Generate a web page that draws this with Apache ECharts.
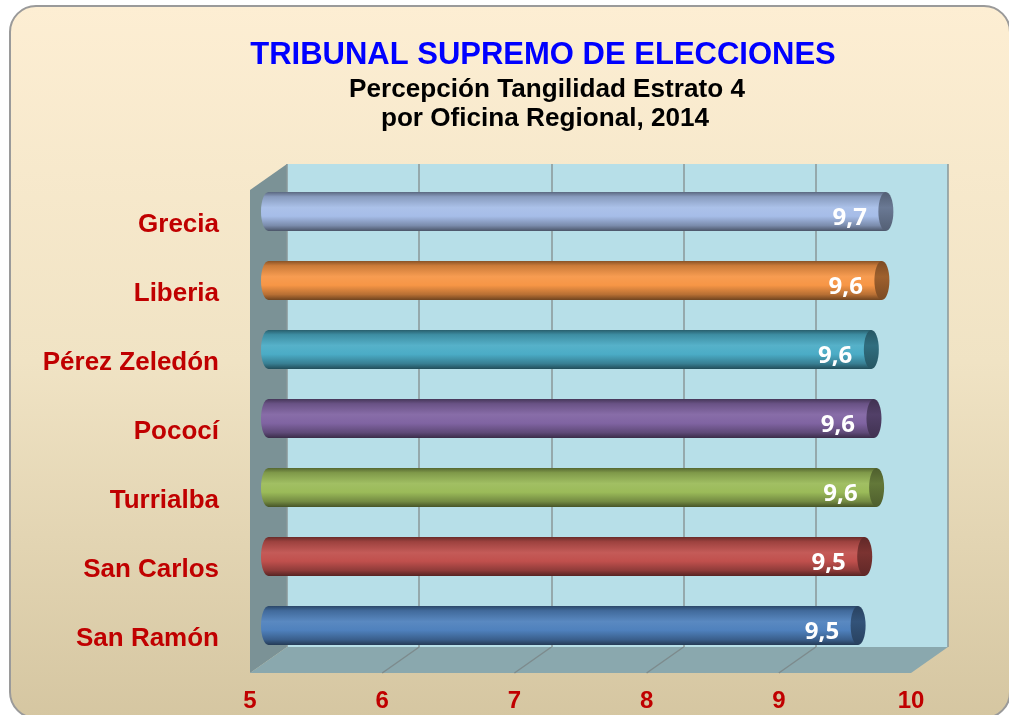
<!DOCTYPE html>
<html>
<head>
<meta charset="utf-8">
<script src="https://cdn.jsdelivr.net/npm/echarts@6/dist/echarts.min.js"></script>
<style>
    html, body { margin: 0; padding: 0; background: #fff; }
    #chart { width: 1009px; height: 715px; }
</style>
</head>
<body>
<div id="chart"></div>
<script>
var categories = ['Grecia', 'Liberia', 'Pérez Zeledón', 'Pococí', 'Turrialba', 'San Carlos', 'San Ramón'];
var values = [9.67, 9.64, 9.56, 9.58, 9.60, 9.51, 9.46];
var xTicks = [5, 6, 7, 8, 9, 10];

var barColors = ['#a6bde8', '#f79646', '#4bacc6', '#8064a2', '#9bbb59', '#c0504d', '#4f81bd'];

// back wall of the 3d box, front plane is shifted by depth
var BACK = { left: 287, top: 164, width: 661, height: 483 };
var DX = -37, DY = 26;

function shade(hex, f) {
    var n = parseInt(hex.slice(1), 16);
    var c = [(n >> 16) & 255, (n >> 8) & 255, n & 255].map(function (v) {
        var r = f <= 1 ? v * f : v + (255 - v) * (f - 1);
        return Math.max(0, Math.min(255, Math.round(r)));
    });
    return 'rgb(' + c.join(',') + ')';
}

function bodyGradient(hex) {
    return new echarts.graphic.LinearGradient(0, 0, 0, 1, [
        { offset: 0, color: shade(hex, 0.55) },
        { offset: 0.12, color: shade(hex, 0.82) },
        { offset: 0.4, color: shade(hex, 1.06) },
        { offset: 0.62, color: hex },
        { offset: 0.86, color: shade(hex, 0.74) },
        { offset: 1, color: shade(hex, 0.45) }
    ]);
}

var chart = echarts.init(document.getElementById('chart'));

function gridAt(k) {
    return {
        left: BACK.left + DX * k,
        top: BACK.top + DY * k,
        width: BACK.width,
        height: BACK.height
    };
}

var g0 = gridAt(0), g1 = gridAt(0.5), g2 = gridAt(1);
g0.show = true;
g0.backgroundColor = '#b7dfe8';
g0.borderWidth = 0;

var graphics = [{
    type: 'rect',
    shape: { x: 10, y: 6, width: 1000, height: 712, r: 26 },
    style: {
        fill: new echarts.graphic.LinearGradient(0, 0, 0, 1, [
            { offset: 0, color: '#fdeed3' },
            { offset: 0.5, color: '#f0e3c4' },
            { offset: 1, color: '#d5c6a1' }
        ]),
        stroke: '#9a9a9a',
        lineWidth: 2
    },
    z: -10
}, {
    // left side wall
    type: 'polygon',
    shape: {
        points: [
            [BACK.left, BACK.top],
            [BACK.left, BACK.top + BACK.height],
            [BACK.left + DX, BACK.top + BACK.height + DY],
            [BACK.left + DX, BACK.top + DY]
        ]
    },
    style: { fill: '#7b9296' },
    z: -5
}, {
    // floor
    type: 'polygon',
    shape: {
        points: [
            [BACK.left + DX, BACK.top + BACK.height + DY],
            [BACK.left, BACK.top + BACK.height],
            [BACK.left + BACK.width, BACK.top + BACK.height],
            [BACK.left + BACK.width + DX, BACK.top + BACK.height + DY]
        ]
    },
    style: { fill: '#8aa8ae' },
    z: -5
}];

xTicks.slice(1, -1).forEach(function (t) {
    var x = BACK.left + (t - 5) / 5 * BACK.width;
    var y = BACK.top + BACK.height;
    graphics.push({
        type: 'line',
        shape: { x1: x, y1: y, x2: x + DX, y2: y + DY },
        style: { stroke: '#7d8b8d', lineWidth: 1.5 },
        z: -4
    });
});

graphics.push({
    type: 'text',
    x: 543, y: 55,
    style: {
        text: 'TRIBUNAL SUPREMO DE ELECCIONES',
        align: 'center', verticalAlign: 'middle',
        fill: '#0000ff',
        font: 'bold 31px "Liberation Sans"'
    }
}, {
    type: 'text',
    x: 547, y: 90,
    scaleX: 1.045,
    style: {
        text: 'Percepción Tangilidad Estrato 4',
        align: 'center', verticalAlign: 'middle',
        fill: '#000',
        font: 'bold 25px "Liberation Sans"'
    }
}, {
    type: 'text',
    x: 545, y: 119,
    scaleX: 1.045,
    style: {
        text: 'por Oficina Regional, 2014',
        align: 'center', verticalAlign: 'middle',
        fill: '#000',
        font: 'bold 25px "Liberation Sans"'
    }
});

function renderCylinder(params, api) {
    var v = api.value(0);
    var idx = api.value(1);
    var start = api.coord([5, idx]);
    var end = api.coord([v, idx]);
    var h = api.size([0, 1])[1] * 0.565;
    var rx = 7.5;
    var col = barColors[idx];
    var grad = bodyGradient(col);
    return {
        type: 'group',
        children: [{
            type: 'ellipse',
            shape: { cx: start[0], cy: start[1], rx: rx, ry: h / 2 },
            style: { fill: grad }
        }, {
            type: 'rect',
            shape: { x: start[0], y: start[1] - h / 2, width: end[0] - start[0], height: h },
            style: { fill: grad }
        }, {
            type: 'ellipse',
            shape: { cx: end[0], cy: end[1], rx: rx, ry: h / 2 },
            style: {
                fill: new echarts.graphic.LinearGradient(0, 0, 0, 1, [
                    { offset: 0, color: shade(col, 0.5) },
                    { offset: 0.4, color: shade(col, 0.64) },
                    { offset: 1, color: shade(col, 0.5) }
                ])
            }
        }, {
            type: 'text',
            x: end[0] - 19,
            y: end[1] + 7,
            style: {
                text: v.toFixed(1).replace('.', ','),
                align: 'right', verticalAlign: 'middle',
                fill: '#ffffff',
                font: 'bold 24px "Open Sans"'
            }
        }]
    };
}

var option = {
    backgroundColor: '#ffffff',
    animation: false,
    graphic: graphics,
    grid: [g0, g1, g2],
    xAxis: [{
        gridIndex: 0, type: 'value', min: 5, max: 10, interval: 1,
        axisLine: { show: false }, axisTick: { show: false }, axisLabel: { show: false },
        splitLine: { show: true, lineStyle: { color: '#8a9799', width: 1.5 } }
    }, {
        gridIndex: 1, type: 'value', min: 5, max: 10, interval: 1, show: false
    }, {
        gridIndex: 2, type: 'value', min: 5, max: 10, interval: 1,
        axisLine: { show: false }, axisTick: { show: false },
        splitLine: { show: false },
        axisLabel: {
            margin: 16,
            color: '#c00000',
            fontSize: 24,
            fontWeight: 'bold',
            fontFamily: 'Liberation Sans'
        }
    }],
    yAxis: [{
        gridIndex: 0, type: 'category', data: categories, inverse: true, show: false
    }, {
        gridIndex: 1, type: 'category', data: categories, inverse: true, show: false
    }, {
        gridIndex: 2, type: 'category', data: categories, inverse: true,
        axisLine: { show: false }, axisTick: { show: false },
        axisLabel: {
            margin: 31,
            padding: [9, 0, 0, 0],
            color: '#c00000',
            fontSize: 26,
            fontWeight: 'bold',
            fontFamily: 'Liberation Sans'
        }
    }],
    series: [{
        type: 'custom',
        xAxisIndex: 1,
        yAxisIndex: 1,
        z: 5,
        renderItem: renderCylinder,
        data: values.map(function (v, i) { return [v, i]; })
    }]
};

chart.setOption(option);
window.addEventListener('resize', function () {
    chart.resize();
});
</script>
</body>
</html>
